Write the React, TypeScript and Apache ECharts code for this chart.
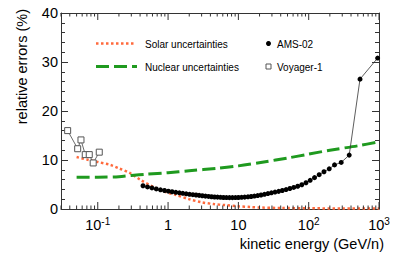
import React, { useEffect, useRef } from "react";
import * as echarts from "echarts";

const amsEnergy = [0.44, 0.51, 0.59, 0.68, 0.78, 0.89, 1.01, 1.14, 1.29, 1.45, 1.62, 1.81, 2.02, 2.25, 2.5, 2.77, 3.07, 3.4, 3.76, 4.15, 4.58, 5.05, 5.57, 6.14, 6.77, 7.46, 8.23, 9.08, 10.0, 11.1, 12.3, 13.7, 15.2, 16.9, 18.8, 21.0, 23.5, 26.3, 29.5, 33.2, 37.4, 42.2, 47.7, 54.0, 61.3, 69.8, 79.8, 91.5, 105, 121, 141, 165, 196, 233, 290, 377, 537, 955];
const amsError = [4.75, 4.5, 4.3, 4.1, 3.92, 3.78, 3.64, 3.52, 3.4, 3.3, 3.2, 3.1, 3.0, 2.92, 2.85, 2.78, 2.7, 2.63, 2.56, 2.5, 2.45, 2.42, 2.38, 2.35, 2.33, 2.32, 2.32, 2.33, 2.35, 2.38, 2.42, 2.48, 2.55, 2.64, 2.74, 2.86, 3.0, 3.15, 3.3, 3.45, 3.6, 3.78, 3.97, 4.18, 4.4, 4.65, 4.95, 5.35, 5.85, 6.4, 7.0, 7.6, 8.2, 9.0, 9.5, 11.0, 26.5, 30.8];

const voyagerEnergy = [0.0373, 0.0518, 0.0577, 0.0664, 0.0757, 0.0861, 0.105];
const voyagerError = [16.0, 12.3, 14.1, 11.1, 11.1, 9.4, 11.6];

const solarEnergy = [0.05, 0.07, 0.1, 0.15, 0.2, 0.29, 0.4, 0.61, 0.9, 1.3, 2.0, 3.0, 4.5, 6.4, 10, 15, 20, 40, 100, 300, 1000];
const solarError = [10.6, 10.1, 9.6, 9.0, 8.3, 7.3, 6.0, 4.55, 3.5, 2.86, 2.0, 1.37, 1.0, 0.8, 0.55, 0.4, 0.3, 0.2, 0.15, 0.1, 0.1];

const nuclearEnergy = [0.05, 0.1, 0.2, 0.3, 0.5, 1, 2, 5, 10, 23, 50, 100, 200, 500, 1000];
const nuclearError = [6.5, 6.5, 6.6, 6.85, 7.1, 7.4, 7.8, 8.3, 8.8, 9.6, 10.4, 11.2, 12.0, 12.9, 13.7];

const xMajorTicks = [0.1, 1, 10, 100, 1000];
const xMinorTicks = [0.03, 0.04, 0.05, 0.06, 0.07, 0.08, 0.09, 0.2, 0.3, 0.4, 0.5, 0.6, 0.7, 0.8, 0.9, 2, 3, 4, 5, 6, 7, 8, 9, 20, 30, 40, 50, 60, 70, 80, 90, 200, 300, 400, 500, 600, 700, 800, 900];
const xTickLabels: Record<string, string> = {
  "-1": "{b|10}{s|-1}",
  "0": "{b|1}",
  "1": "{b|10}",
  "2": "{b|10}{s|2}",
  "3": "{b|10}{s|3}",
};

const FONT = "'Liberation Sans', Arial, Helvetica, sans-serif";
const AXIS_COLOR = "#333";
const ORANGE = "#ff6a3d";
const GREEN = "#1f9a1f";

export default function App() {
  const ref = useRef<HTMLDivElement>(null);
  useEffect(() => {
    if (!ref.current) return;
    const chart = echarts.init(ref.current, undefined, { renderer: "svg" });
    const pair = (xs: number[], ys: number[]) => xs.map((x, i) => [x, ys[i]]);
    const tickData = [
      ...xMajorTicks.map((v) => [v, 7]),
      ...xMinorTicks.map((v) => [v, 3.5]),
    ];
    const logXAxis = (position: "bottom" | "top", showLabel: boolean) => ({
      type: "log",
      logBase: 10,
      min: 0.03,
      max: 1000,
      position,
      axisLine: { show: true, onZero: false, lineStyle: { color: AXIS_COLOR, width: 1 } },
      axisTick: { show: false },
      splitLine: { show: false },
      axisLabel: {
        show: showLabel,
        margin: 7,
        showMinLabel: true,
        showMaxLabel: true,
        hideOverlap: false,
        formatter: (v: number) => {
          const l = Math.log10(v);
          const r = Math.round(l);
          if (Math.abs(l - r) > 1e-6) return "";
          return xTickLabels[String(r)] || "";
        },
        rich: {
          b: { fontSize: 14.5, fontFamily: FONT, color: "#000", lineHeight: 16, verticalAlign: "bottom" },
          s: { fontSize: 10, fontFamily: FONT, color: "#000", lineHeight: 16, verticalAlign: "top", padding: [0, 0, 6, 0] },
        },
      },
    });
    const valYAxis = (position: "left" | "right", showLabel: boolean) => ({
      type: "value",
      min: 0,
      max: 40,
      interval: 10,
      position,
      axisLine: { show: true, lineStyle: { color: AXIS_COLOR, width: 1 } },
      axisTick: { show: true, inside: true, length: 7, lineStyle: { color: AXIS_COLOR } },
      minorTick: { show: true, splitNumber: 5, length: 4, lineStyle: { color: AXIS_COLOR } },
      splitLine: { show: false },
      minorSplitLine: { show: false },
      axisLabel: { show: showLabel, fontSize: 14.5, fontFamily: FONT, color: "#000", margin: 3 },
    });
    chart.setOption({
      animation: false,
      grid: { left: 61, top: 13, right: 20, bottom: 53, containLabel: false },
      xAxis: [logXAxis("bottom", true), logXAxis("top", false)],
      yAxis: [valYAxis("left", true), valYAxis("right", false)],
      series: [
        {
          type: "line",
          name: "Solar uncertainties",
          data: pair(solarEnergy, solarError),
          smooth: 0.3,
          symbol: "none",
          lineStyle: { color: ORANGE, width: 2.5, type: [2.5, 2.5] },
          z: 3,
        },
        {
          type: "line",
          name: "Nuclear uncertainties",
          data: pair(nuclearEnergy, nuclearError),
          smooth: 0.3,
          symbol: "none",
          lineStyle: { color: GREEN, width: 3, type: [13, 5] },
          z: 3,
        },
        {
          type: "line",
          name: "AMS-02",
          data: pair(amsEnergy, amsError),
          symbol: "circle",
          symbolSize: 5,
          itemStyle: { color: "#000" },
          lineStyle: { color: "#333", width: 0.8 },
          z: 4,
        },
        {
          type: "line",
          name: "Voyager-1",
          data: pair(voyagerEnergy, voyagerError),
          symbol: "rect",
          symbolSize: 6,
          itemStyle: { color: "#fff", borderColor: "#555", borderWidth: 1 },
          lineStyle: { color: "#444", width: 0.8 },
          z: 4,
        },
        {
          type: "custom",
          silent: true,
          z: 10,
          data: tickData,
          renderItem: (params: any, api: any) => {
            const v = api.value(0);
            const len = api.value(1);
            const p = api.coord([v, 0]);
            const cs = params.coordSys;
            const top = cs.y;
            const bottom = cs.y + cs.height;
            const st = { stroke: AXIS_COLOR, lineWidth: 1 };
            return {
              type: "group",
              children: [
                { type: "line", shape: { x1: p[0], y1: bottom, x2: p[0], y2: bottom - len }, style: st },
                { type: "line", shape: { x1: p[0], y1: top, x2: p[0], y2: top + len }, style: st },
              ],
            };
          },
        },
      ],
      graphic: [
        {
          type: "text",
          x: 22,
          y: 9,
          rotation: Math.PI / 2,
          style: { text: "relative errors (%)", fontSize: 14.5, fontFamily: FONT, fill: "#000", align: "right", verticalAlign: "middle" },
        },
        {
          type: "text",
          x: 384,
          y: 244,
          style: { text: "kinetic energy (GeV/n)", fontSize: 14.5, fontFamily: FONT, fill: "#000", align: "right", verticalAlign: "middle" },
        },
        {
          type: "line",
          shape: { x1: 96, y1: 43.5, x2: 135, y2: 43.5 },
          style: { stroke: ORANGE, lineWidth: 2.5, lineDash: [2.5, 2.5] },
        },
        {
          type: "text",
          x: 145,
          y: 44,
          style: { text: "Solar uncertainties", fontSize: 10, fontFamily: FONT, fill: "#000", verticalAlign: "middle" },
        },
        {
          type: "line",
          shape: { x1: 96, y1: 66.5, x2: 137, y2: 66.5 },
          style: { stroke: GREEN, lineWidth: 3, lineDash: [13, 5] },
        },
        {
          type: "text",
          x: 145,
          y: 67,
          style: { text: "Nuclear uncertainties", fontSize: 10, fontFamily: FONT, fill: "#000", verticalAlign: "middle" },
        },
        {
          type: "circle",
          shape: { cx: 268.5, cy: 43.5, r: 2.5 },
          style: { fill: "#000" },
        },
        {
          type: "text",
          x: 277,
          y: 44,
          style: { text: "AMS-02", fontSize: 10, fontFamily: FONT, fill: "#000", verticalAlign: "middle" },
        },
        {
          type: "rect",
          shape: { x: 266, y: 64, width: 5, height: 5 },
          style: { fill: "#fff", stroke: "#555", lineWidth: 1 },
        },
        {
          type: "text",
          x: 277,
          y: 67,
          style: { text: "Voyager-1", fontSize: 10, fontFamily: FONT, fill: "#000", verticalAlign: "middle" },
        },
      ],
    });
    return () => chart.dispose();
  }, []);
  return <div ref={ref} style={{ width: 399, height: 262, position: "absolute", left: 0, top: 0 }} />;
}
